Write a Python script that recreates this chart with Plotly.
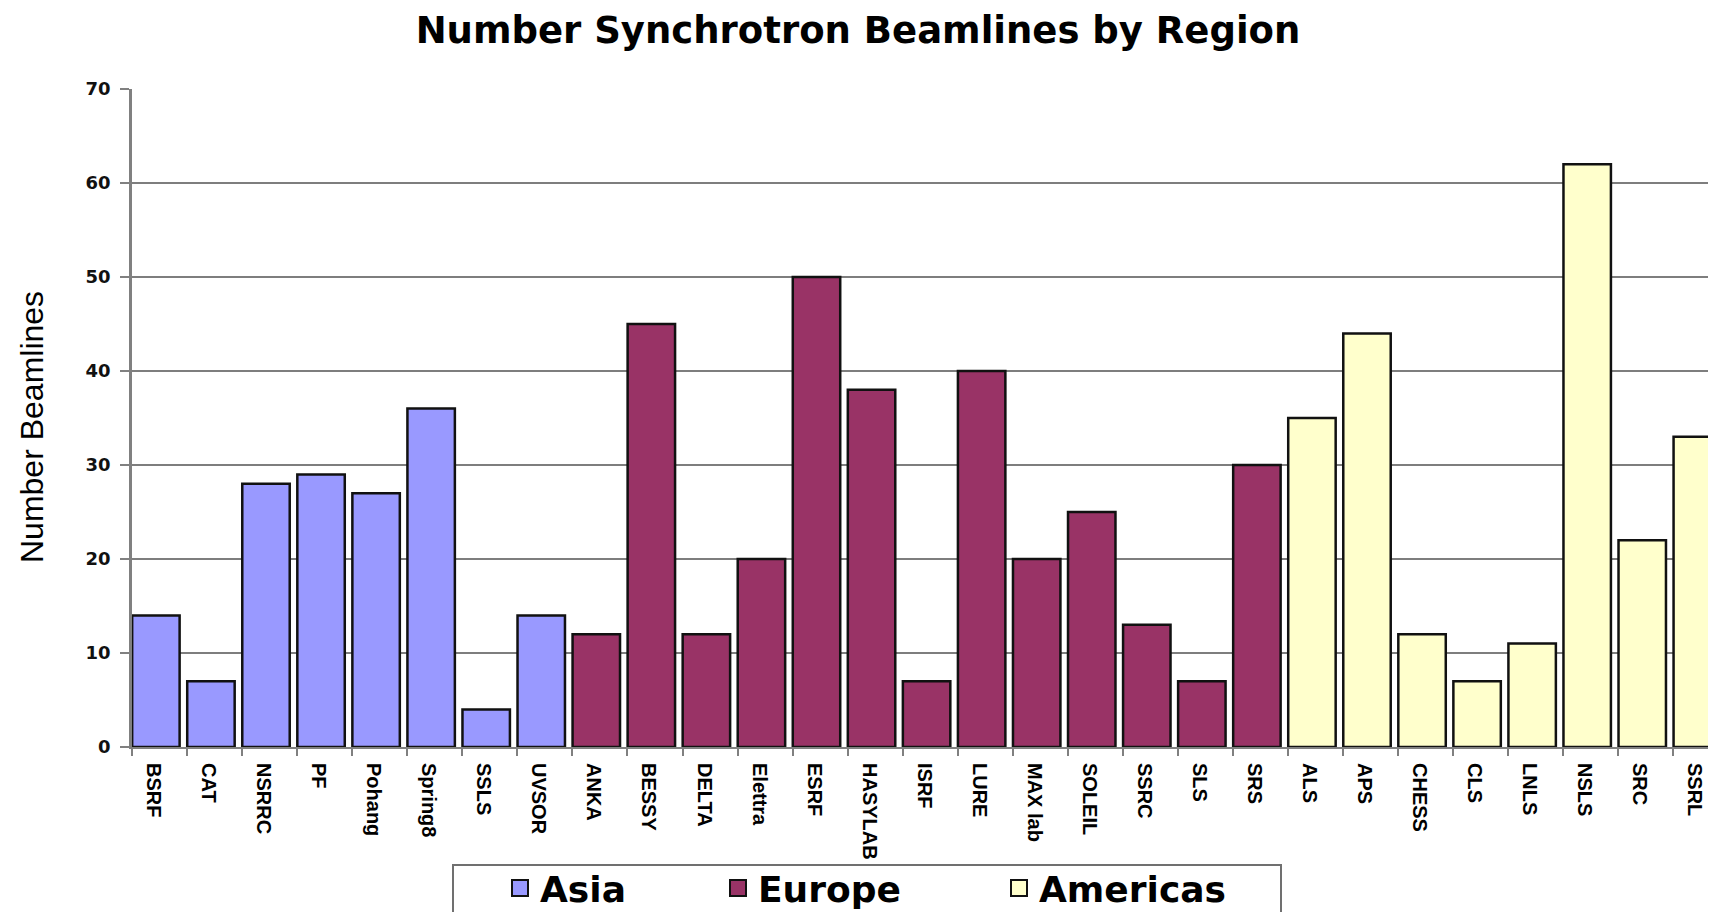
import plotly.graph_objects as go

# ---- data ----
asia_sites = ["BSRF", "CAT", "NSRRC", "PF", "Pohang", "Spring8", "SSLS", "UVSOR"]
asia_counts = [14, 7, 28, 29, 27, 36, 4, 14]

europe_sites = ["ANKA", "BESSY", "DELTA", "Elettra", "ESRF", "HASYLAB", "ISRF",
                "LURE", "MAX lab", "SOLEIL", "SSRC", "SLS", "SRS"]
europe_counts = [12, 45, 12, 20, 50, 38, 7, 40, 20, 25, 13, 7, 30]

americas_sites = ["ALS", "APS", "CHESS", "CLS", "LNLS", "NSLS", "SRC", "SSRL"]
americas_counts = [35, 44, 12, 7, 11, 62, 22, 33]

regions = ["Asia", "Europe", "Americas"]
region_colors = ["#9999FF", "#993366", "#FFFFCC"]

y_ticks = [0, 10, 20, 30, 40, 50, 60, 70]

title_text = "Number Synchrotron Beamlines by Region"
y_title = "Number Beamlines"

# ---- layout geometry ----
# the page body keeps an 8px default margin, so the figure is sized to fill
# the rest of the 1716x912 window; all positions below are page pixels.
PAGE_W, PAGE_H = 1716, 912
OFF = 8
W, H = PAGE_W - OFF, PAGE_H - OFF
plot_left, plot_right, plot_top, plot_bottom = 132, 1716, 89, 747
L = plot_left - OFF
R = PAGE_W - plot_right
T = plot_top - OFF
B = PAGE_H - plot_bottom
plot_w = plot_right - plot_left
plot_h = plot_bottom - plot_top
cat_px = 55.05

all_sites = asia_sites + europe_sites + americas_sites


def px_to_paper_x(px):
    return (px - plot_left) / plot_w


def px_to_paper_y(py):
    return (plot_bottom - py) / plot_h


fig = go.Figure()

series = [(asia_sites, asia_counts), (europe_sites, europe_counts),
          (americas_sites, americas_counts)]
for (sites, counts), name, color in zip(series, regions, region_colors):
    fig.add_trace(go.Bar(
        x=sites, y=counts, name=name,
        marker=dict(color=color, line=dict(color="#111111", width=2.5)),
        width=0.862, offset=-0.497, showlegend=False,
    ))

legend_widths = [173, 236, 200]
for name, color, lw in zip(regions, region_colors, legend_widths):
    fig.add_trace(go.Scatter(
        x=[None], y=[None], mode="markers", name=name,
        marker=dict(symbol="square", size=16, color=color,
                    line=dict(color="#111111", width=2)),
        legendwidth=lw, showlegend=True,
    ))

fig.update_layout(
    template="none",
    width=W, height=H,
    margin=dict(l=L, r=R, t=T, b=B, autoexpand=False),
    paper_bgcolor="white", plot_bgcolor="white",
    barmode="overlay",
    title=dict(text=title_text, x=0.5 - OFF / 2 / W, xanchor="center",
               y=1 - (30 - OFF) / H, yanchor="middle", yref="container",
               font=dict(family="DejaVu Sans", size=37, color="black", weight="bold")),
    showlegend=True,
    legend=dict(orientation="h", x=px_to_paper_x(500), y=px_to_paper_y(858),
                xanchor="left", yanchor="top", bgcolor="rgba(0,0,0,0)",
                borderwidth=0,
                font=dict(family="DejaVu Sans", size=36, color="black", weight="bold")),
    xaxis=dict(
        type="category", categoryorder="array", categoryarray=all_sites,
        range=[-0.5, -0.5 + plot_w / cat_px],
        tickangle=90, tickson="boundaries", ticks="outside", ticklen=7,
        tickcolor="#808080", tickwidth=1.5,
        showline=True, linecolor="#808080", linewidth=2,
        showgrid=False, automargin=False, ticklabelstandoff=10, ticklabelshift=-6,
        tickfont=dict(family="Liberation Sans", size=20, color="black", weight="bold"),
    ),
    yaxis=dict(
        range=[0, 70], tickvals=y_ticks, ticktext=[str(v) for v in y_ticks],
        ticks="outside", ticklen=9, tickcolor="#808080", tickwidth=1.5,
        showline=True, linecolor="#808080", linewidth=2.5,
        showgrid=True, gridcolor="#7e7e7e", gridwidth=1.5,
        zeroline=False, automargin=False, ticklabelstandoff=6,
        tickfont=dict(family="DejaVu Sans", size=18, color="#111111", weight="bold"),
    ),
    annotations=[dict(
        text=y_title, textangle=-90, xref="paper", yref="paper",
        x=px_to_paper_x(32), y=px_to_paper_y(427), xanchor="center", yanchor="middle",
        showarrow=False,
        font=dict(family="Liberation Sans", size=32, color="black"),
    )],
    shapes=[dict(
        type="rect", xref="paper", yref="paper", layer="below",
        x0=px_to_paper_x(453), x1=px_to_paper_x(1281),
        y0=px_to_paper_y(865), y1=px_to_paper_y(940),
        line=dict(color="#707070", width=2), fillcolor="white",
    )],
)

fig.write_html("out.html")
